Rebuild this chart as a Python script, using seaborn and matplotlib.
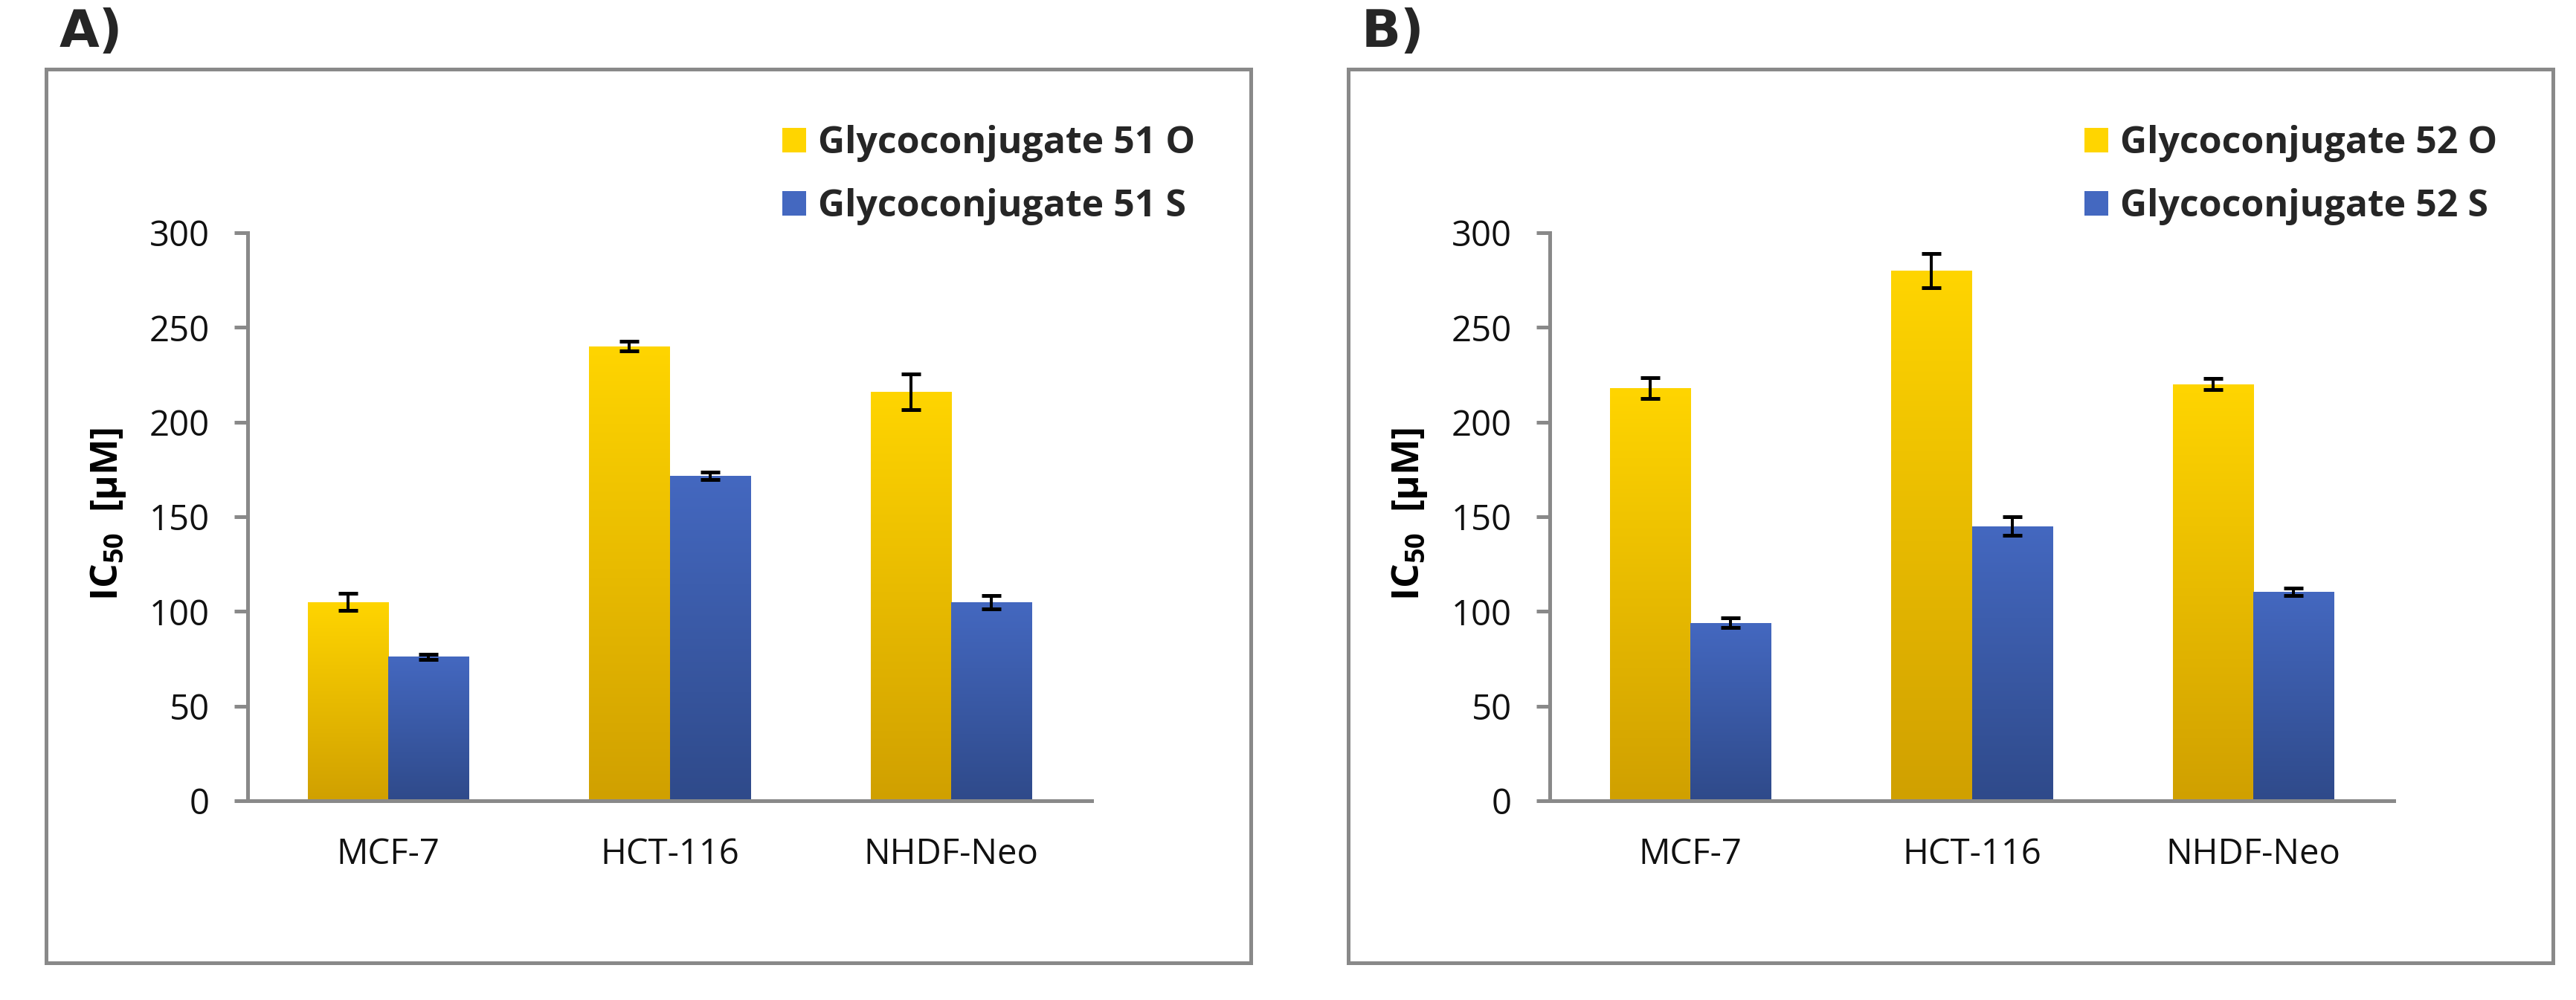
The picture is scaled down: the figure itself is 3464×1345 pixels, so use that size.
import numpy as np
import pandas as pd
import matplotlib
matplotlib.use("Agg")
import matplotlib.pyplot as plt
import matplotlib.patches as mpatches
from matplotlib.container import BarContainer
from matplotlib.colors import LinearSegmentedColormap
import seaborn as sns

# ---------------- data ----------------
cells = ["MCF-7", "HCT-116", "NHDF-Neo"]

labels_A = ["Glycoconjugate 51 O", "Glycoconjugate 51 S"]
A_O = [105, 240, 216]
A_O_err = [4.5, 2.5, 9.5]
A_S = [76, 171.5, 105]
A_S_err = [1.5, 2.0, 3.5]

labels_B = ["Glycoconjugate 52 O", "Glycoconjugate 52 S"]
B_O = [218, 280, 220]
B_O_err = [5.5, 9.0, 3.0]
B_S = [94, 145, 110.5]
B_S_err = [2.5, 5.0, 2.0]

yticks = [0, 50, 100, 150, 200, 250, 300]
panel_titles = ["A)", "B)"]
ylabel = r"IC$_{\mathbf{50}}$  [µM]"

# ---------------- style ----------------
W, H = 3464, 1345
DPI = 100
GRAY = "#898989"
YEL_TOP, YEL_BOT = "#FFD500", "#D0A000"
BLU_TOP, BLU_BOT = "#4468C0", "#2F4A8A"

sns.set_theme(style="white")
plt.rcParams["font.family"] = ["Open Sans", "DejaVu Sans"]
plt.rcParams["mathtext.fontset"] = "custom"
plt.rcParams["mathtext.rm"] = "Open Sans"
plt.rcParams["mathtext.bf"] = "Open Sans:bold"
plt.rcParams["mathtext.it"] = "Open Sans:italic"

fig = plt.figure(figsize=(W / DPI, H / DPI), dpi=DPI)
fig.patch.set_facecolor("white")

px = 72.0 / DPI  # points per pixel


def fx(x):
    return x / W


def fy(y):
    return 1 - y / H


panels = [
    dict(border_x=62, O=A_O, Oe=A_O_err, S=A_S, Se=A_S_err,
         labels=labels_A, title=panel_titles[0]),
    dict(border_x=1813, O=B_O, Oe=B_O_err, S=B_S, Se=B_S_err,
         labels=labels_B, title=panel_titles[1]),
]

axes_off = 271          # y-axis offset from panel border
axes_w = 1135
axes_top, axes_bot = 313, 1077
border_w = 1620
border_top, border_bot = 93, 1295
label_off = 83          # y-label centre offset from panel border
label_cy = 691

cmaps = {
    0: LinearSegmentedColormap.from_list("yel", [YEL_BOT, YEL_TOP]),
    1: LinearSegmentedColormap.from_list("blu", [BLU_BOT, BLU_TOP]),
}
grad = np.linspace(0, 1, 256).reshape(-1, 1)

legend_objs = []

for pn in panels:
    bx = pn["border_x"]
    axx = bx + axes_off
    # panel border
    rect = mpatches.Rectangle(
        (fx(bx), fy(border_bot)),
        border_w / W, (border_bot - border_top) / H,
        transform=fig.transFigure, fill=False, edgecolor=GRAY,
        linewidth=5 * px, zorder=0)
    fig.add_artist(rect)

    # panel letter
    fig.text(fx(bx + 18), fy(63), pn["title"], fontsize=50,
             fontweight="bold", family="DejaVu Sans", ha="left",
             va="baseline")

    ax = fig.add_axes([fx(axx), fy(axes_bot), axes_w / W,
                       (axes_bot - axes_top) / H])
    ax.set_facecolor("none")

    df = pd.DataFrame({
        "cell": cells * 2,
        "value": list(pn["O"]) + list(pn["S"]),
        "compound": [pn["labels"][0]] * 3 + [pn["labels"][1]] * 3,
    })

    sns.barplot(data=df, x="cell", y="value", hue="compound",
                order=cells, hue_order=pn["labels"],
                palette=[YEL_TOP, BLU_TOP], width=0.571, errorbar=None,
                legend=False, ax=ax, saturation=1, linewidth=0, zorder=2)

    bar_conts = [c for c in ax.containers if isinstance(c, BarContainer)]
    # gradients and error bars per hue container
    for hi, cont in enumerate(bar_conts):
        errs = pn["Oe"] if hi == 0 else pn["Se"]
        xs, hs, es = [], [], []
        for p in cont.patches:
            x0, w, h = p.get_x(), p.get_width(), p.get_height()
            ci = int(round(x0 + w / 2))
            im = ax.imshow(grad, cmap=cmaps[hi], aspect="auto",
                           origin="lower", extent=(x0, x0 + w, 0, h),
                           zorder=2.5, interpolation="bilinear")
            im.set_clip_path(p)
            xs.append(x0 + w / 2)
            hs.append(h)
            es.append(errs[ci])
        ax.errorbar(xs, hs, yerr=es, fmt="none", ecolor="black",
                    elinewidth=4 * px, capsize=13 * px,
                    capthick=5 * px, zorder=4)

    ax.set_xlim(-0.5, 2.5)
    ax.set_ylim(0, 300)
    ax.set_yticks(yticks)
    ax.set_yticklabels([str(t) for t in yticks])

    for s in ["top", "right"]:
        ax.spines[s].set_visible(False)
    for s in ["left", "bottom"]:
        ax.spines[s].set_color(GRAY)
        ax.spines[s].set_linewidth(5 * px)
        ax.spines[s].set_zorder(5)
    ax.tick_params(axis="y", which="major", direction="out",
                   length=18 * px, width=5 * px, color=GRAY,
                   labelsize=34, labelcolor="#111111", pad=24, left=True)
    ax.tick_params(axis="x", which="major", length=0, labelsize=34,
                   labelcolor="#111111", pad=35, bottom=True)
    ax.set_xlabel("")
    ax.set_ylabel(ylabel, fontsize=37, fontweight="bold", color="black",
                  ha="center", va="center")
    ax.yaxis.set_label_coords((bx + label_off - axx) / axes_w,
                              (axes_bot - label_cy) / (axes_bot - axes_top))

    handles = [mpatches.Patch(facecolor=YEL_TOP, edgecolor="none",
                              label=pn["labels"][0]),
               mpatches.Patch(facecolor=BLU_TOP, edgecolor="none",
                              label=pn["labels"][1])]
    leg = fig.legend(handles=handles, loc="center left",
                     bbox_to_anchor=(fx(bx + 990), fy(235.5)),
                     frameon=False, prop=dict(family="Open Sans",
                                              weight="bold", size=36),
                     handlelength=0.64, handleheight=0.64,
                     handletextpad=0.32, labelspacing=0.7,
                     borderpad=0, borderaxespad=0)
    legend_objs.append(leg)

# gradient overlay for legend keys
fig.canvas.draw()
renderer = fig.canvas.get_renderer()
for leg in legend_objs:
    for hi, h in enumerate(leg.legend_handles):
        bb = h.get_window_extent(renderer).transformed(
            fig.transFigure.inverted())
        kax = fig.add_axes([bb.x0, bb.y0, bb.width, bb.height])
        kax.imshow(grad, cmap=cmaps[hi], aspect="auto", origin="lower",
                   interpolation="bilinear")
        kax.set_axis_off()

fig.savefig("out.png", dpi=DPI, facecolor="white")
